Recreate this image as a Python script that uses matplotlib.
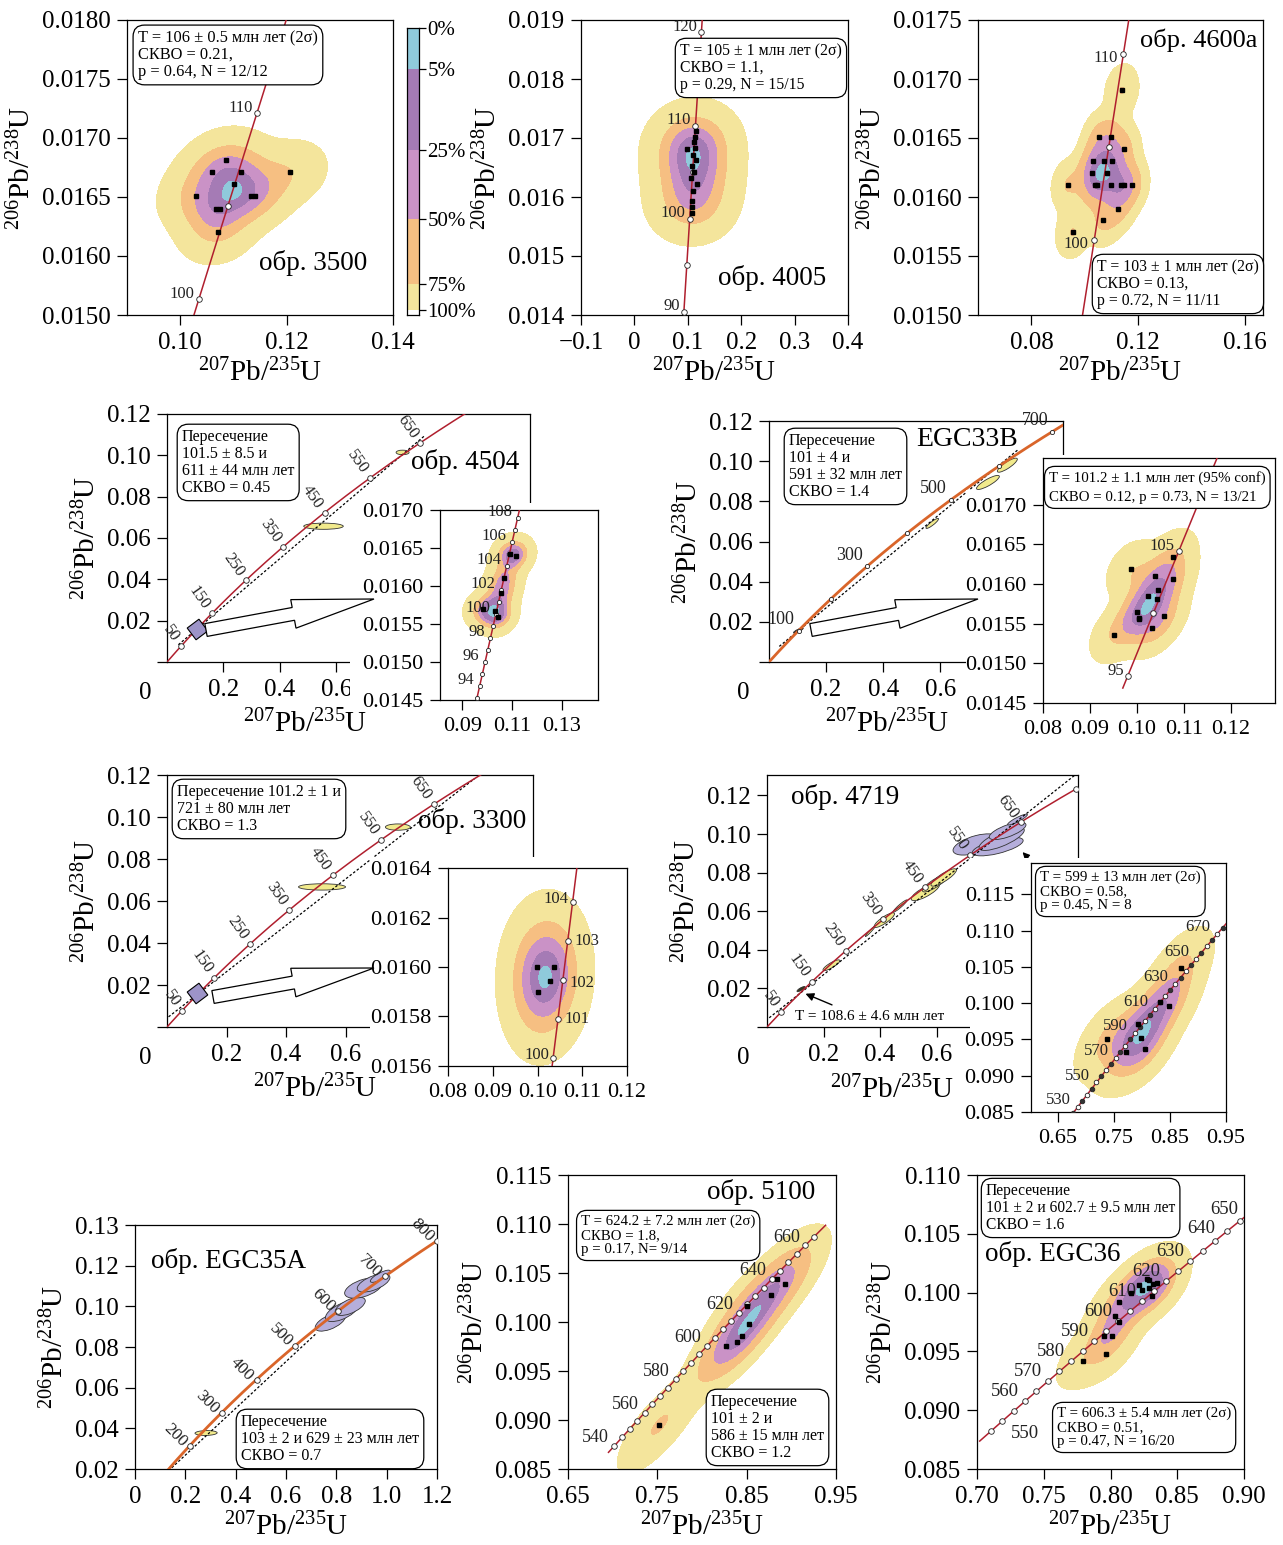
import numpy as np
import matplotlib
matplotlib.use("Agg")
import matplotlib.pyplot as plt
from matplotlib.patches import Ellipse, Rectangle, FancyArrow

plt.rcParams["font.family"] = ["Liberation Serif", "DejaVu Serif"]
plt.rcParams["mathtext.fontset"] = "custom"
plt.rcParams["mathtext.rm"] = "Liberation Serif"
plt.rcParams["mathtext.it"] = "Liberation Serif:italic"
plt.rcParams["mathtext.bf"] = "Liberation Serif:bold"

W, H = 1283, 1545
LAM238 = 1.55125e-10
LAM235 = 9.8485e-10

CYA, PUR, PNK, ORA, YEL = "#8fcadb", "#a57bb5", "#ca92c6", "#f6bf82", "#f4e59c"
RED, ORG = "#b01f2e", "#d9652a"
ELL_Y, ELL_P = "#f1ea8c", "#b5aedb"
XLAB = r"$^{207}$Pb/$^{235}$U"
YLAB = r"$^{206}$Pb/$^{238}$U"

# ---------------- data ----------------
# обр. 3500
s3500_x = [0.1086, 0.1059, 0.1115, 0.1206, 0.1101, 0.1029, 0.1133, 0.1140, 0.1068, 0.1074, 0.1071]
s3500_y = [0.01681, 0.01671, 0.01671, 0.01671, 0.01661, 0.01651, 0.01651, 0.01651, 0.01640, 0.01640, 0.01620]
s3500_yticklabels = ["0.0150", "0.0160", "0.0165", "0.0170", "0.0175", "0.0180"]

# обр. 4005
s4005_x = [0.1151, 0.1132, 0.1120, 0.0976, 0.1101, 0.1151, 0.1082, 0.1113, 0.1051, 0.1169,
           0.1095, 0.1076, 0.1076, 0.1076, 0.1132]
s4005_y = [0.017126, 0.017025, 0.016929, 0.016822, 0.016720, 0.016619, 0.016523, 0.016432, 0.016314,
           0.016212, 0.016094, 0.015930, 0.015828, 0.015727, 0.016827]

# обр. 4600a
s4600_x = [0.11388, 0.10538, 0.10975, 0.11463, 0.10313, 0.10713, 0.11025, 0.10263, 0.10838, 0.09375,
           0.10388, 0.10450, 0.10975, 0.11338, 0.11463, 0.11763, 0.11238, 0.10688, 0.09538]
s4600_y = [0.016907, 0.016507, 0.016507, 0.016405, 0.016301, 0.016301, 0.016301, 0.016202, 0.016202,
           0.016103, 0.016103, 0.016103, 0.016103, 0.016103, 0.016103, 0.016103, 0.015900, 0.015801,
           0.015700]

# обр. 4504
s4504_x = [0.11143, 0.10914, 0.10671, 0.10571, 0.09843, 0.10429, 0.10314]
s4504_y = [0.016398, 0.016424, 0.016106, 0.015909, 0.015700, 0.015595, 0.015669]
s4504_ell_x = [0.554, 0.834]
s4504_ell_y = [0.0657, 0.1014]
s4504_ell_sx = [0.070, 0.023]
s4504_ell_sy = [0.0015, 0.0011]
s4504_ell_r = [0.0, 0.0]

# EGC33B
egc33_x = [0.10761, 0.09866, 0.10387, 0.10761, 0.10444, 0.10240, 0.10423, 0.09993, 0.10042,
           0.10042, 0.10585, 0.10331, 0.09507]
egc33_y = [0.01634, 0.01619, 0.01610, 0.01607, 0.01593, 0.01585, 0.01581, 0.01565, 0.01557,
           0.01556, 0.01560, 0.01544, 0.01536]
egc33_ell_x = [0.572, 0.767, 0.835]
egc33_ell_y = [0.0690, 0.0894, 0.0980]
egc33_ell_sx = [0.022, 0.040, 0.035]
egc33_ell_sy = [0.0025, 0.0035, 0.0035]
egc33_ell_r = [0.9, 0.85, 0.85]
egc33_blk_x = [0.100, 0.108, 0.104]
egc33_blk_y = [0.0155, 0.0160, 0.0157]
egc33_blk_sx = [0.014, 0.012, 0.010]
egc33_blk_sy = [0.0011, 0.0010, 0.0009]
egc33_blk_r = [0.8, 0.8, 0.8]

# обр. 3300
s3300_x = [0.09996, 0.10367, 0.10010, 0.10285]
s3300_y = [0.016000, 0.016000, 0.015899, 0.015943]
s3300_ell_x = [0.521, 0.776]
s3300_ell_y = [0.0667, 0.0952]
s3300_ell_sx = [0.079, 0.042]
s3300_ell_sy = [0.0015, 0.0015]
s3300_ell_r = [0.0, 0.0]

# обр. 4719
s4719_x = [0.8695, 0.8474, 0.8319, 0.7931, 0.7990, 0.8062, 0.7383, 0.7711]
s4719_y = [0.10488, 0.09963, 0.10009, 0.09706, 0.09526, 0.09374, 0.09512, 0.09324]
s4719_yel_x = [0.228, 0.366, 0.415, 0.471, 0.560, 0.595, 0.625]
s4719_yel_y = [0.0320, 0.0497, 0.0554, 0.0627, 0.0700, 0.0745, 0.0775]
s4719_yel_sx = [0.030, 0.018, 0.036, 0.025, 0.050, 0.045, 0.045]
s4719_yel_sy = [0.0028, 0.0028, 0.0038, 0.0032, 0.0045, 0.0045, 0.0045]
s4719_yel_r = [0.85, 0.97, 0.85, 0.95, 0.8, 0.85, 0.85]
s4719_pur_x = [0.738, 0.816, 0.830, 0.851, 0.886]
s4719_pur_y = [0.0946, 0.0935, 0.0975, 0.1016, 0.1075]
s4719_pur_sx = [0.080, 0.090, 0.080, 0.065, 0.035]
s4719_pur_sy = [0.0055, 0.0048, 0.0060, 0.0045, 0.0028]
s4719_pur_r = [0.55, 0.65, 0.75, 0.7, 0.9]
s4719_blk_x = [0.118, 0.125]
s4719_blk_y = [0.0195, 0.0200]
s4719_blk_sx = [0.012, 0.010]
s4719_blk_sy = [0.0012, 0.0010]
s4719_blk_r = [0.8, 0.8]

# обр. EGC35A
egc35_yel_x = [0.2824]
egc35_yel_y = [0.0377]
egc35_yel_sx = [0.044]
egc35_yel_sy = [0.0012]
egc35_yel_r = [0.1]
egc35_pur_x = [0.776, 0.822, 0.855, 0.908, 0.948, 0.975]
egc35_pur_y = [0.0923, 0.0975, 0.1000, 0.1090, 0.1115, 0.1148]
egc35_pur_sx = [0.060, 0.065, 0.060, 0.075, 0.065, 0.040]
egc35_pur_sy = [0.0045, 0.0050, 0.0045, 0.0050, 0.0045, 0.0030]
egc35_pur_r = [0.6, 0.6, 0.6, 0.5, 0.6, 0.8]
egc35_yticklabels = ["0.02", "0.04", "0.06", "0.08", "0.10", "0.12", "0.13"]

# обр. 5100
s5100_x = [0.8838, 0.8928, 0.8771, 0.8501, 0.8528, 0.8266, 0.8445, 0.8389, 0.7521]
s5100_y = [0.10440, 0.10390, 0.10277, 0.10168, 0.09978, 0.09760, 0.09862, 0.09801, 0.08945]

# обр. EGC36
egc36_x = [0.8292, 0.8317, 0.8347, 0.8272, 0.8312, 0.8152, 0.8062, 0.8032, 0.8062, 0.7953,
           0.8012, 0.7963, 0.7793, 0.8217, 0.8234, 0.8292]
egc36_y = [0.10108, 0.10074, 0.10080, 0.10114, 0.09975, 0.09995, 0.09924, 0.09797, 0.09746,
           0.09627, 0.09635, 0.09480, 0.09417, 0.10063, 0.10023, 0.10037]

cbar_labels = ["0%", "5%", "25%", "50%", "75%", "100%"]
cbar_colors = [CYA, PUR, PNK, ORA, YEL]

fig = plt.figure(figsize=(W / 100, H / 100), dpi=100)


def conc(t):
    t = np.asarray(t, float) * 1e6
    return np.expm1(LAM235 * t), np.expm1(LAM238 * t)


def make_ax(l, t, r, b, z=1, ls=18):
    ax = fig.add_axes([l / W, 1 - b / H, (r - l) / W, (b - t) / H])
    ax.set_zorder(z)
    ax.tick_params(direction="out", length=7, width=0.9, pad=5, labelsize=ls)
    for s in ax.spines.values():
        s.set_linewidth(0.9)
    return ax


def kde_fill(ax, xs, ys, bw, ex, ey):
    xs, ys = np.asarray(xs), np.asarray(ys)
    cov = np.cov(xs, ys) * bw ** 2 + np.diag([ex ** 2, ey ** 2])
    inv = np.linalg.inv(cov)
    sx, sy = np.sqrt(cov[0, 0]), np.sqrt(cov[1, 1])
    gx = np.linspace(xs.min() - 5 * sx, xs.max() + 5 * sx, 320)
    gy = np.linspace(ys.min() - 5 * sy, ys.max() + 5 * sy, 320)
    X, Y = np.meshgrid(gx, gy)
    Z = np.zeros_like(X)
    for x0, y0 in zip(xs, ys):
        dx, dy = X - x0, Y - y0
        Z += np.exp(-0.5 * (inv[0, 0] * dx * dx + 2 * inv[0, 1] * dx * dy + inv[1, 1] * dy * dy))
    z = np.sort(Z.ravel())[::-1]
    c = np.cumsum(z)
    c /= c[-1]
    lev = [z[np.searchsorted(c, p)] for p in (0.97, 0.75, 0.5, 0.25, 0.05)]
    lev.append(Z.max() * 1.01)
    ax.contourf(X, Y, Z, levels=lev, colors=[YEL, ORA, PNK, PUR, CYA], zorder=1)
    ax.plot(xs, ys, "s", ms=3.2, color="black", zorder=6)


def ellipses(ax, xs, ys, sxs, sys_, rs, fc):
    for x, y, sx, sy, r in zip(xs, ys, sxs, sys_, rs):
        cov = np.array([[sx * sx, r * sx * sy], [r * sx * sy, sy * sy]])
        vals, vecs = np.linalg.eigh(cov)
        ang = np.degrees(np.arctan2(vecs[1, 1], vecs[0, 1]))
        ax.add_patch(Ellipse((x, y), 2 * np.sqrt(vals[1]), 2 * np.sqrt(max(vals[0], 1e-12)),
                             angle=ang, fc=fc, ec="#333333", lw=0.6, zorder=2))


def concordia(ax, t0, t1, marks, labels, color=RED, lw=1.1, off=(-3, 4), rot=0, fs=12,
              ms=4, dark=(), over=None):
    x, y = conc(np.linspace(t0, t1, 600))
    ax.plot(x, y, color=color, lw=lw, zorder=3)
    for a in marks:
        mx, my = conc(a)
        ax.plot(mx, my, "o", ms=ms, mfc="#333333" if a in dark else "white",
                mec="#222222", mew=0.6, zorder=4)
    for a in labels:
        lx, ly = conc(a)
        o, ha = off, "right"
        if over and a in over:
            o, ha = over[a]
        ax.annotate(str(a), (lx, ly), xytext=o, textcoords="offset points", ha=ha,
                    va="center", rotation=rot, rotation_mode="anchor", fontsize=fs,
                    color="#222222", zorder=5)


def discordia(ax, t_lo, t_hi, lo, hi):
    x1, y1 = conc(t_lo)
    x2, y2 = conc(t_hi)
    s = np.array([-lo, 1 + hi])
    ax.plot(x1 + s * (x2 - x1), y1 + s * (y2 - y1), color="black", lw=0.9,
            ls=(0, (2, 1.6)), zorder=2.5)


def ftext(px, py, s, **kw):
    fig.text(px / W, 1 - py / H, s, **kw)


def box(px, py, s, fs=11.5, ls=1.08):
    fig.text(px / W, 1 - py / H, s, ha="left", va="top", fontsize=fs, linespacing=ls, zorder=6,
             bbox=dict(boxstyle="round,pad=0.3,rounding_size=0.7", fc="white", ec="black", lw=0.9))


def white(l, t, r, b):
    fig.add_artist(Rectangle((l / W, 1 - b / H), (r - l) / W, (b - t) / H,
                             transform=fig.transFigure, fc="white", ec="none", zorder=2))


def hollow_arrow(x0, y0, x1, y1):
    fig.add_artist(FancyArrow(x0 / 100, (H - y0) / 100, (x1 - x0) / 100, -(y1 - y0) / 100,
                              width=0.13, head_width=0.29, head_length=0.82,
                              length_includes_head=True, transform=fig.dpi_scale_trans,
                              fc="white", ec="black", lw=0.9, zorder=4))


def main_axes(ax, xmax, ymax):
    ax.set_xlim(0, xmax)
    ax.set_ylim(0, ymax)
    ax.set_xticks([0.2, 0.4, 0.6])
    ax.set_xticklabels(["0.2", "0.4", "0.6"])
    yt = [0, 0.02, 0.04, 0.06, 0.08, 0.10, 0.12]
    ax.set_yticks(yt)
    ax.set_yticklabels([""] + [f"{v:.2f}" for v in yt[1:]])
    ax.set_ylabel(YLAB, fontsize=21, labelpad=4)


# ---------------- panel 1: обр. 3500 ----------------
ax = make_ax(127, 20, 393, 315)
kde_fill(ax, s3500_x, s3500_y, 0.6, 0.0025, 0.0001)
concordia(ax, 95, 125, [100, 105, 110], [100, 110])
ax.set_xlim(0.09, 0.14)
ax.set_ylim(0.0155, 0.0180)
ax.set_xticks([0.10, 0.12, 0.14])
ax.set_xticklabels(["0.10", "0.12", "0.14"])
ax.set_yticks([0.0155, 0.0160, 0.0165, 0.0170, 0.0175, 0.0180])
ax.set_yticklabels(s3500_yticklabels)
ax.set_xlabel(XLAB, fontsize=21, labelpad=4)
ax.set_ylabel(YLAB, fontsize=21, labelpad=4)
box(138, 30, "T = 106 ± 0.5 млн лет (2σ)\nСКВО = 0.21,\np = 0.64, N = 12/12", fs=11.8)
ftext(259, 263, "обр. 3500", fontsize=19.5, va="center")

cax = make_ax(407, 28, 419, 315, ls=15)
cbar_pos = [1.0, 0.857, 0.575, 0.334, 0.108, 0.017]
for i, c in enumerate(cbar_colors):
    cax.axhspan(cbar_pos[i + 1], cbar_pos[i], color=c, lw=0)
cax.set_ylim(0, 1)
cax.set_xticks([])
cax.set_yticks(cbar_pos)
cax.set_yticklabels(cbar_labels)
cax.yaxis.tick_right()
cax.tick_params(axis="y", length=5, pad=1)

# ---------------- panel 2: обр. 4005 ----------------
ax = make_ax(581, 20, 848, 315)
kde_fill(ax, s4005_x, s4005_y, 0.5, 0.04, 0.0002)
concordia(ax, 88, 125, [90, 95, 100, 105, 110, 115, 120], [90, 100, 110, 120])
ax.set_xlim(-0.1, 0.4)
ax.set_ylim(0.014, 0.019)
ax.set_xticks([-0.1, 0, 0.1, 0.2, 0.3, 0.4])
ax.set_xticklabels(["\u22120.1", "0", "0.1", "0.2", "0.3", "0.4"])
ax.set_yticks([0.014, 0.015, 0.016, 0.017, 0.018, 0.019])
ax.set_yticklabels(["0.014", "0.015", "0.016", "0.017", "0.018", "0.019"])
ax.set_xlabel(XLAB, fontsize=21, labelpad=4)
ax.set_ylabel(YLAB, fontsize=21, labelpad=4)
box(680, 43, "T = 105 ± 1 млн лет (2σ)\nСКВО = 1.1,\np = 0.29, N = 15/15", fs=11.3)
ftext(718, 278, "обр. 4005", fontsize=19.5, va="center")

# ---------------- panel 3: обр. 4600a ----------------
ax = make_ax(978, 20, 1263, 315)
kde_fill(ax, s4600_x, s4600_y, 0.35, 0.0028, 0.00008)
concordia(ax, 95, 120, [100, 105, 110], [100, 110], off=(-4, -3))
ax.set_xlim(0.06, 0.1667)
ax.set_ylim(0.0150, 0.0175)
ax.set_xticks([0.08, 0.12, 0.16])
ax.set_xticklabels(["0.08", "0.12", "0.16"])
yt = [0.0150, 0.0155, 0.0160, 0.0165, 0.0170, 0.0175]
ax.set_yticks(yt)
ax.set_yticklabels([f"{v:.4f}" for v in yt])
ax.set_xlabel(XLAB, fontsize=21, labelpad=4)
ax.set_ylabel(YLAB, fontsize=21, labelpad=4)
box(1097, 259, "T = 103 ± 1 млн лет (2σ)\nСКВО = 0.13,\np = 0.72, N = 11/11", fs=11.3)
ftext(1140, 40, "обр. 4600a", fontsize=19, va="center")

# ---------------- panel 4: обр. 4504 ----------------
ax = make_ax(167, 414, 530, 662)
main_axes(ax, 1.285, 0.12)
ellipses(ax, s4504_ell_x, s4504_ell_y, s4504_ell_sx, s4504_ell_sy, s4504_ell_r, ELL_Y)
discordia(ax, 101.5, 611, 0.09, 0.12)
concordia(ax, 0.1, 800, [50, 150, 250, 350, 450, 550, 650], [50, 150, 250, 350, 450, 550, 650],
          off=(-4, 4), rot=-55, fs=12)
ax.plot([np.mean(s4504_x)], [np.mean(s4504_y)], marker=(4, 0, -8), ms=15, mfc="#9d94c8",
        mec="black", mew=0.8, zorder=5)
box(182, 429, "Пересечение\n101.5 ± 8.5 и\n611 ± 44 млн лет\nСКВО = 0.45")
ftext(411, 462, "обр. 4504", fontsize=19.5, va="center")
ftext(305, 724, XLAB, fontsize=21, ha="center", va="center")
ftext(145, 693, "0", fontsize=18, ha="center", va="center")
white(350, 503, 610, 745)
ax = make_ax(440, 510, 598, 700, z=3, ls=16)
kde_fill(ax, s4504_x, s4504_y, 0.25, 0.0038, 0.00009)
concordia(ax, 92, 112, list(range(93, 111)), [94, 96, 98, 100, 102, 104, 106, 108],
          off=(-4, 4), fs=12, ms=3)
ax.set_xlim(0.081, 0.1446)
ax.set_ylim(0.0145, 0.0170)
ax.set_xticks([0.09, 0.11, 0.13])
ax.set_xticklabels(["0.09", "0.11", "0.13"])
yt = [0.0145, 0.0150, 0.0155, 0.0160, 0.0165, 0.0170]
ax.set_yticks(yt)
ax.set_yticklabels([f"{v:.4f}" for v in yt])
hollow_arrow(206, 630, 374, 599)

# ---------------- panel 5: EGC33B ----------------
ax = make_ax(769, 421, 1063, 662)
main_axes(ax, 1.03, 0.12)
ellipses(ax, egc33_ell_x, egc33_ell_y, egc33_ell_sx, egc33_ell_sy, egc33_ell_r, ELL_Y)
ellipses(ax, egc33_blk_x, egc33_blk_y, egc33_blk_sx, egc33_blk_sy, egc33_blk_r, "#222222")
discordia(ax, 101, 591, 0.1, 0.12)
concordia(ax, 0.1, 760, [100, 200, 300, 400, 500, 600, 700], [100, 300, 500, 700], color=ORG,
          lw=2.0, off=(-3, 8), fs=13, ms=3)
box(789, 433, "Пересечение\n101 ± 4 и\n591 ± 32 млн лет\nСКВО = 1.4")
ftext(916, 440, "EGC33B", fontsize=20, va="center")
ftext(887, 724, XLAB, fontsize=21, ha="center", va="center")
ftext(743, 693, "0", fontsize=18, ha="center", va="center")
white(966, 490, 1045, 730)
white(1040, 455, 1283, 745)
ax = make_ax(1043, 458, 1275, 703, z=3, ls=16)
kde_fill(ax, egc33_x, egc33_y, 0.6, 0.0018, 0.00007)
concordia(ax, 94, 115, [95, 100, 105], [95, 105], off=(-3, 3))
ax.set_xlim(0.08, 0.1294)
ax.set_ylim(0.0145, 0.01759)
ax.set_xticks([0.08, 0.09, 0.10, 0.11, 0.12])
ax.set_xticklabels(["0.08", "0.09", "0.10", "0.11", "0.12"])
ax.set_yticks(yt)
ax.set_yticklabels([f"{v:.4f}" for v in yt])
box(1049, 471, "T = 101.2 ± 1.1 млн лет (95% conf)\nСКВО = 0.12, p = 0.73, N = 13/21",
    fs=10.7, ls=1.6)
hollow_arrow(811, 630, 978, 599)

# ---------------- panel 6: обр. 3300 ----------------
ax = make_ax(167, 775, 533, 1027)
main_axes(ax, 1.23, 0.12)
ellipses(ax, s3300_ell_x, s3300_ell_y, s3300_ell_sx, s3300_ell_sy, s3300_ell_r, ELL_Y)
discordia(ax, 101.2, 721, 0.12, 0.0)
concordia(ax, 0.1, 800, [50, 150, 250, 350, 450, 550, 650], [50, 150, 250, 350, 450, 550, 650],
          off=(-4, 4), rot=-55, fs=12)
ax.plot([np.mean(s3300_x)], [np.mean(s3300_y)], marker=(4, 0, -8), ms=15, mfc="#9d94c8",
        mec="black", mew=0.8, zorder=5)
box(177, 784, "Пересечение 101.2 ± 1 и\n721 ± 80 млн лет\nСКВО = 1.3")
ftext(418, 821, "обр. 3300", fontsize=19.5, va="center")
ftext(315, 1089, XLAB, fontsize=21, ha="center", va="center")
ftext(145, 1058, "0", fontsize=18, ha="center", va="center")
white(370, 857, 640, 1110)
ax = make_ax(448, 868, 627, 1066, z=3, ls=16)
kde_fill(ax, s3300_x, s3300_y, 0.9, 0.0035, 0.00012)
concordia(ax, 99.5, 106, [100, 101, 102, 103, 104], [100, 101, 102, 103, 104], off=(-3, 2),
          fs=12, over={101: ((5, 0), "left"), 102: ((5, -2), "left"), 103: ((5, 0), "left")})
ax.set_xlim(0.08, 0.12)
ax.set_ylim(0.0156, 0.0164)
ax.set_xticks([0.08, 0.09, 0.10, 0.11, 0.12])
ax.set_xticklabels(["0.08", "0.09", "0.10", "0.11", "0.12"])
yt6 = [0.0156, 0.0158, 0.0160, 0.0162, 0.0164]
ax.set_yticks(yt6)
ax.set_yticklabels([f"{v:.4f}" for v in yt6])
hollow_arrow(213, 997, 374, 968)

# ---------------- panel 7: обр. 4719 ----------------
ax = make_ax(767, 775, 1078, 1027)
main_axes(ax, 1.10, 0.1306)
ellipses(ax, s4719_yel_x, s4719_yel_y, s4719_yel_sx, s4719_yel_sy, s4719_yel_r, ELL_Y)
ellipses(ax, s4719_pur_x, s4719_pur_y, s4719_pur_sx, s4719_pur_sy, s4719_pur_r, ELL_P)
ellipses(ax, s4719_blk_x, s4719_blk_y, s4719_blk_sx, s4719_blk_sy, s4719_blk_r, "#3a3a10")
discordia(ax, 108.6, 599, 0.17, 0.45)
concordia(ax, 0.1, 800, [50, 150, 250, 350, 450, 550, 650, 750], [50, 150, 250, 350, 450, 550, 650],
          off=(-4, 4), rot=-55, fs=12)
ax.annotate("", xy=(0.127, 0.0178), xytext=(0.239, 0.0109),
            arrowprops=dict(arrowstyle="-|>", color="black", lw=1.0, mutation_scale=12), zorder=6)
ax.text(0.098, 0.0054, "T = 108.6 ± 4.6 млн лет", fontsize=11, va="center", ha="left")
ax.annotate("", xy=(0.897, 0.0917), xytext=(0.93, 0.0866), annotation_clip=False,
            arrowprops=dict(arrowstyle="-|>", color="black", lw=1.0, mutation_scale=10), zorder=6)
ftext(791, 797, "обр. 4719", fontsize=19.5, va="center")
ftext(892, 1090, XLAB, fontsize=21, ha="center", va="center")
ftext(743, 1058, "0", fontsize=18, ha="center", va="center")
white(970, 858, 1283, 1150)
ax = make_ax(1031, 863, 1226, 1112, z=3, ls=16)
kde_fill(ax, s4719_x, s4719_y, 0.6, 0.016, 0.0016)
concordia(ax, 520, 680, list(range(525, 680, 5)), [530, 550, 570, 590, 610, 630, 650, 670],
          off=(-5, 5), fs=12, ms=3.3, dark=list(range(525, 680, 10)))
ax.set_xlim(0.602, 0.95)
ax.set_ylim(0.085, 0.1193)
ax.set_xticks([0.65, 0.75, 0.85, 0.95])
ax.set_xticklabels(["0.65", "0.75", "0.85", "0.95"])
yt7 = [0.085, 0.090, 0.095, 0.100, 0.105, 0.110, 0.115]
ax.set_yticks(yt7)
ax.set_yticklabels([f"{v:.3f}" for v in yt7])
box(1040, 871, "T = 599 ± 13 млн лет (2σ)\nСКВО = 0.58,\np = 0.45, N = 8", fs=10.8)

# ---------------- panel 8: обр. EGC35A ----------------
ax = make_ax(135, 1225, 437, 1469)
ellipses(ax, egc35_yel_x, egc35_yel_y, egc35_yel_sx, egc35_yel_sy, egc35_yel_r, ELL_Y)
ellipses(ax, egc35_pur_x, egc35_pur_y, egc35_pur_sx, egc35_pur_sy, egc35_pur_r, ELL_P)
discordia(ax, 103, 629, 0.0, -0.18)
concordia(ax, 120, 830, [200, 300, 400, 500, 600, 700, 800], [200, 300, 400, 500, 600, 700, 800],
          color=ORG, lw=2.0, off=(-4, 1), rot=-45, fs=12.5)
ax.set_xlim(0, 1.2)
ax.set_ylim(0.02, 0.14)
ax.set_xticks([0, 0.2, 0.4, 0.6, 0.8, 1.0, 1.2])
ax.set_xticklabels(["0", "0.2", "0.4", "0.6", "0.8", "1.0", "1.2"])
ax.set_yticks([0.02, 0.04, 0.06, 0.08, 0.10, 0.12, 0.14])
ax.set_yticklabels(egc35_yticklabels)
ax.set_xlabel(XLAB, fontsize=21, labelpad=4)
ax.set_ylabel(YLAB, fontsize=21, labelpad=4)
box(241, 1414, "Пересечение\n103 ± 2 и 629 ± 23 млн лет\nСКВО = 0.7")
ftext(151, 1261, "обр. EGC35A", fontsize=19.5, va="center")

# ---------------- panel 9: обр. 5100 ----------------
ax = make_ax(568, 1175, 836, 1469)
kde_fill(ax, s5100_x, s5100_y, 0.5, 0.012, 0.0011)
concordia(ax, 536, 672, list(range(540, 670, 5)), [540, 560, 580, 600, 620, 640, 660],
          off=(-4, 6), fs=13, ms=4)
ax.set_xlim(0.65, 0.95)
ax.set_ylim(0.085, 0.115)
ax.set_xticks([0.65, 0.75, 0.85, 0.95])
ax.set_xticklabels(["0.65", "0.75", "0.85", "0.95"])
yt9 = [0.085, 0.090, 0.095, 0.100, 0.105, 0.110, 0.115]
ax.set_yticks(yt9)
ax.set_yticklabels([f"{v:.3f}" for v in yt9])
ax.set_xlabel(XLAB, fontsize=21, labelpad=4)
ax.set_ylabel(YLAB, fontsize=21, labelpad=4)
box(581, 1215, "T = 624.2 ± 7.2 млн лет (2σ)\nСКВО = 1.8,\np = 0.17, N= 9/14", fs=10.7)
box(711, 1394, "Пересечение\n101 ± 2 и\n586 ± 15 млн лет\nСКВО = 1.2")
ftext(707, 1192, "обр. 5100", fontsize=19.5, va="center")

# ---------------- panel 10: обр. EGC36 ----------------
ax = make_ax(977, 1175, 1244, 1469)
kde_fill(ax, egc36_x, egc36_y, 0.5, 0.009, 0.0008)
concordia(ax, 540, 656, list(range(545, 655, 5)), list(range(550, 660, 10)),
          off=(-4, 7), fs=13.5, ms=4,
          over={550: ((6, -9), "left"), 640: ((0, 9), "right"), 650: ((-1, 8), "right")})
ax.set_xlim(0.70, 0.90)
ax.set_ylim(0.085, 0.110)
ax.set_xticks([0.70, 0.75, 0.80, 0.85, 0.90])
ax.set_xticklabels(["0.70", "0.75", "0.80", "0.85", "0.90"])
yt10 = [0.085, 0.090, 0.095, 0.100, 0.105, 0.110]
ax.set_yticks(yt10)
ax.set_yticklabels([f"{v:.3f}" for v in yt10])
ax.set_xlabel(XLAB, fontsize=21, labelpad=4)
ax.set_ylabel(YLAB, fontsize=21, labelpad=4)
box(986, 1183, "Пересечение\n101 ± 2 и 602.7 ± 9.5 млн лет\nСКВО = 1.6", fs=11.2)
box(1057, 1407, "T = 606.3 ± 5.4 млн лет (2σ)\nСКВО = 0.51,\np = 0.47, N = 16/20", fs=10.7)
ftext(985, 1254, "обр. EGC36", fontsize=19.5, va="center")

fig.savefig("out.png", dpi=100)
